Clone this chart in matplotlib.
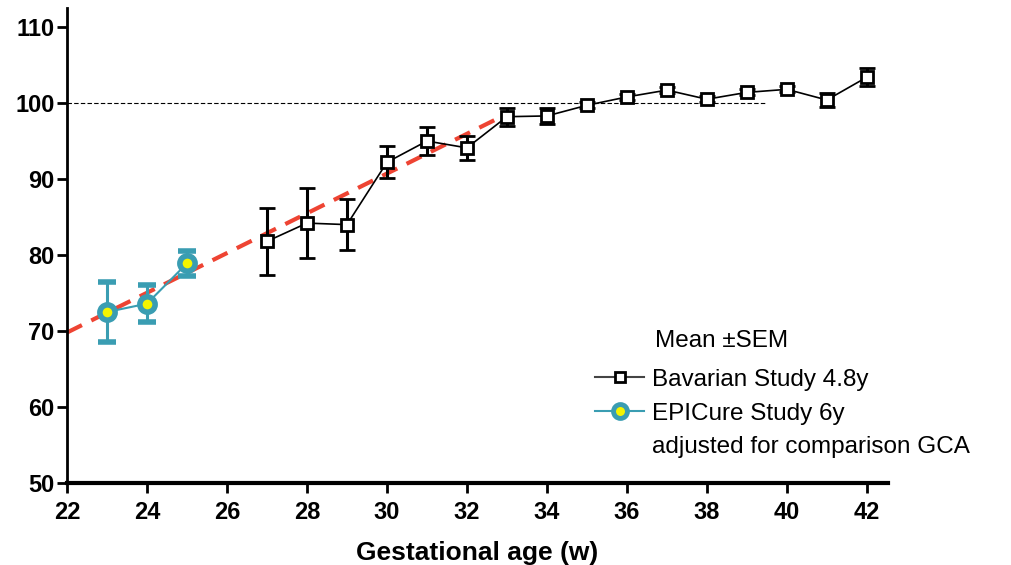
import matplotlib
matplotlib.use("Agg")
import matplotlib.pyplot as plt
from matplotlib.lines import Line2D

plt.rcParams['font.family'] = ['Liberation Sans', 'DejaVu Sans']

# Bavarian Study 4.8y
bav_weeks = [27, 28, 29, 30, 31, 32, 33, 34, 35, 36, 37, 38, 39, 40, 41, 42]
bav_mean = [81.8, 84.2, 84.0, 92.2, 95.0, 94.1, 98.2, 98.3, 99.7, 100.8, 101.7, 100.5, 101.4, 101.8, 100.4, 103.4]
bav_sem = [4.4, 4.6, 3.4, 2.1, 1.8, 1.6, 1.2, 1.0, 0.4, 0.4, 0.4, 0.4, 0.4, 0.4, 0.9, 1.2]

# EPICure Study 6y
epi_weeks = [23, 24, 25]
epi_mean = [72.5, 73.6, 78.9]
epi_sem = [4.0, 2.4, 1.6]

# trend line and reference line
trend_x = [22, 32.9]
trend_y = [69.8, 98.3]
ref_x = [22, 39.5]
ref_y = [100, 100]

teal = '#3a9db2'

fig = plt.figure(figsize=(10.12, 5.65), dpi=100)
ax = fig.add_axes([0.0662, 0.1451, 0.8113, 0.8407])

ax.plot(ref_x, ref_y, color='black', lw=0.8, ls=(0, (4, 2)), zorder=1)
ax.plot(trend_x, trend_y, color='#ee4433', lw=3, ls=(0, (4, 2.5)), zorder=2)

ax.errorbar(bav_weeks, bav_mean, yerr=bav_sem, color='black', lw=1.2,
            elinewidth=2.2, capsize=6, capthick=2.2, marker='s', ms=8.5,
            mfc='white', mec='black', mew=2, zorder=4)
ax.errorbar(epi_weeks, epi_mean, yerr=epi_sem, color=teal, lw=1.5,
            elinewidth=2.2, capsize=6.5, capthick=2.2, marker='o', ms=11,
            mfc='#f4f400', mec=teal, mew=4, zorder=5)

ax.set_xlim(22, 42.53)
ax.set_ylim(50, 112.5)
ax.set_xticks(range(22, 43, 2))
ax.set_yticks(range(50, 111, 10))
for s in ['top', 'right']:
    ax.spines[s].set_visible(False)
ax.spines['left'].set_linewidth(2)
ax.spines['bottom'].set_linewidth(3)
ax.tick_params(axis='both', width=2, length=7, labelsize=17)
ax.tick_params(axis='x', pad=6)
ax.tick_params(axis='y', pad=2)
for lab in ax.get_xticklabels() + ax.get_yticklabels():
    lab.set_fontweight('bold')
ax.set_xlabel('Gestational age (w)', fontsize=19, fontweight='bold', labelpad=12)

handles = [
    Line2D([], [], color='#444444', lw=1.5, marker='s', ms=7, mfc='white', mec='black', mew=2),
    Line2D([], [], color=teal, lw=1.5, marker='o', ms=10, mfc='#f4f400', mec=teal, mew=3.5),
    Line2D([], [], color='none'),
]
labels = ['Bavarian Study 4.8y', 'EPICure Study 6y', 'adjusted for comparison GCA']
leg = ax.legend(handles, labels, loc='upper left', bbox_to_anchor=(0.617, 0.287),
                frameon=False, fontsize=17.5, handlelength=2.0, handletextpad=0.33,
                labelspacing=0.49)
ax.text(0.716, 0.299, 'Mean \u00b1SEM', transform=ax.transAxes, fontsize=17.5, va='center')

fig.savefig('out.png', dpi=100)
